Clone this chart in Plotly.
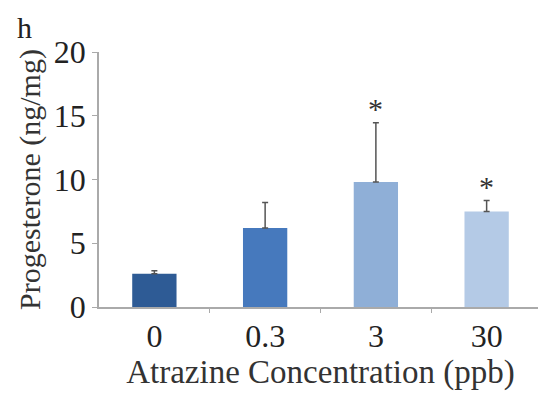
import plotly.graph_objects as go

categories = ["0", "0.3", "3", "30"]
values = [2.6, 6.2, 9.8, 7.5]
err_plus = [0.25, 2.0, 4.65, 0.85]
colors = ["#2e5b95", "#4679bd", "#8fafd7", "#b4cae6"]
sig = ["", "", "*", "*"]

font_serif = "Liberation Serif, Times New Roman, serif"

fig = go.Figure()
fig.add_trace(go.Bar(
    x=list(range(len(categories))), y=values, width=0.4,
    marker=dict(color=colors, line=dict(width=0)),
    error_y=dict(type="data", symmetric=False, array=err_plus, arrayminus=[0]*4,
                 color="#555555", thickness=1.5, width=3),
))

for i, (v, e, s) in enumerate(zip(values, err_plus, sig)):
    if s:
        fig.add_annotation(x=i, y=v + e, text=s, showarrow=False, yshift=14,
                           font=dict(family=font_serif, size=30, color="#333333"))

fig.add_annotation(xref="paper", yref="paper", x=-0.19, y=1.168, text="h",
                   showarrow=False, xanchor="left", yanchor="top",
                   font=dict(family=font_serif, size=30, color="#222222"))

fig.update_layout(
    width=538, height=394,
    margin=dict(l=91, r=4, t=44, b=95, autoexpand=False),
    paper_bgcolor="white", plot_bgcolor="white",
    showlegend=False,
    font=dict(family=font_serif, color="#222222"),
    xaxis=dict(
        range=[-0.5, 3.5], tickvals=list(range(len(categories))), ticktext=categories,
        automargin=False,
        showline=True, linecolor="#aaaaaa", linewidth=1.5,
        ticks="", showgrid=False, zeroline=False,
        tickfont=dict(size=32, family=font_serif, color="#222222"),
        title=dict(text="Atrazine Concentration (ppb)", standoff=4,
                   font=dict(size=33, family=font_serif, color="#333333")),
    ),
    xaxis2=dict(
        overlaying="x", range=[-0.5, 3.5], tickvals=[0.5, 1.5, 2.5],
        showticklabels=False, ticks="outside", tickcolor="#aaaaaa", ticklen=5,
        showline=False, showgrid=False, zeroline=False, side="bottom",
        anchor="y", automargin=False,
    ),
    yaxis=dict(
        range=[0, 20], tickvals=[0, 5, 10, 15, 20],
        automargin=False,
        showline=True, linecolor="#aaaaaa", linewidth=1.5,
        ticks="outside", tickcolor="#aaaaaa", ticklen=5,
        tickfont=dict(size=32, family=font_serif, color="#222222"),
        title=dict(text="Progesterone (ng/mg)", standoff=4,
                   font=dict(size=30, family=font_serif, color="#333333")),
        showgrid=False, zeroline=False,
    ),
)
# invisible trace to activate the tick axis at category boundaries
fig.add_trace(go.Scatter(x=[0.5], y=[0], xaxis="x2", mode="markers",
                         marker=dict(opacity=0), hoverinfo="skip"))

fig.write_html("out.html")
